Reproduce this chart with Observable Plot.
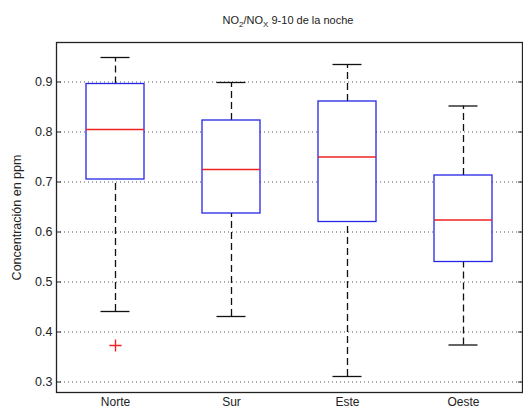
<!DOCTYPE html>
<html>
<head>
<meta charset="utf-8">
<script src="https://cdn.jsdelivr.net/npm/d3@7"></script>
<script src="https://cdn.jsdelivr.net/npm/@observablehq/plot@0.6"></script>
<style>
  html, body { margin: 0; padding: 0; background: #fff; }
  svg { display: block; }
</style>
</head>
<body>
<div id="chart"></div>
<script>
const categories = ["Norte", "Sur", "Este", "Oeste"];
const lowerWhisker = [0.441, 0.431, 0.311, 0.374];
const q1 = [0.705, 0.637, 0.620, 0.540];
const median = [0.805, 0.725, 0.750, 0.624];
const q3 = [0.896, 0.823, 0.861, 0.713];
const upperWhisker = [0.949, 0.899, 0.935, 0.852];
const outlierCategory = ["Norte"];
const outlierValue = [0.373];
const yTicks = [0.3, 0.4, 0.5, 0.6, 0.7, 0.8, 0.9];

const boxes = categories.map((c, i) => ({
  cat: c, lo: lowerWhisker[i], q1: q1[i], med: median[i], q3: q3[i], hi: upperWhisker[i]
}));
const outliers = outlierCategory.map((c, i) => ({cat: c, v: outlierValue[i]}));

const font = "Liberation Sans, Arial, sans-serif";
const blue = "#2626e6";
const red = "#ee2222";

const plot = Plot.plot({
  width: 523,
  height: 415,
  marginLeft: 56,
  marginRight: 1,
  marginTop: 42,
  marginBottom: 23,
  style: {fontFamily: font, fontSize: "12px", color: "#222", background: "#fff"},
  x: {type: "band", domain: categories, paddingInner: 0.5, paddingOuter: 0.25},
  y: {domain: [0.279, 0.979]},
  marks: [
    Plot.gridY(yTicks, {stroke: "#444", strokeOpacity: 0.9, strokeDasharray: "1,3", strokeWidth: 1}),
    Plot.ruleX(boxes, {x: "cat", y1: "q3", y2: "hi", stroke: "#111", strokeWidth: 1.3, strokeDasharray: "7,4"}),
    Plot.ruleX(boxes, {x: "cat", y1: "lo", y2: "q1", stroke: "#111", strokeWidth: 1.3, strokeDasharray: "7,4"}),
    Plot.tickY(boxes, {x: "cat", y: "hi", stroke: "#111", strokeWidth: 1.3, insetLeft: 14.5, insetRight: 14.5}),
    Plot.tickY(boxes, {x: "cat", y: "lo", stroke: "#111", strokeWidth: 1.3, insetLeft: 14.5, insetRight: 14.5}),
    Plot.barY(boxes, {x: "cat", y1: "q1", y2: "q3", fill: "white", stroke: blue, strokeWidth: 1.3}),
    Plot.tickY(boxes, {x: "cat", y: "med", stroke: red, strokeWidth: 1.3}),
    Plot.dot(outliers, {x: "cat", y: "v", symbol: "plus", fill: "none", stroke: red, r: 4, strokeWidth: 1.4}),
    Plot.frame({stroke: "#222", strokeWidth: 1.3}),
    Plot.axisY(yTicks, {anchor: "left", tickSize: -5, tickPadding: 9, fontSize: 12.5, tickFormat: d3.format(".1f"),
      label: "Concentración en ppm", labelAnchor: "center", labelArrow: "none", labelOffset: 44}),
    Plot.axisY(yTicks, {anchor: "right", tickSize: -5, tickFormat: () => "", label: null}),
    Plot.axisX({anchor: "bottom", tickSize: 0, tickPadding: 5, fontSize: 12, label: null})
  ]
});

const svg = d3.select(plot);
const title = svg.append("text")
  .attr("x", 288).attr("y", 24)
  .attr("text-anchor", "middle")
  .attr("font-family", font)
  .attr("font-size", 11)
  .attr("fill", "#222");
title.append("tspan").text("NO");
title.append("tspan").attr("font-size", 8).attr("dy", 3).text("2");
title.append("tspan").attr("dy", -3).text("/NO");
title.append("tspan").attr("font-size", 8).attr("dy", 3).text("X");
title.append("tspan").attr("dy", -3).text(" 9-10 de la noche");

document.getElementById("chart").appendChild(plot);
</script>
</body>
</html>
